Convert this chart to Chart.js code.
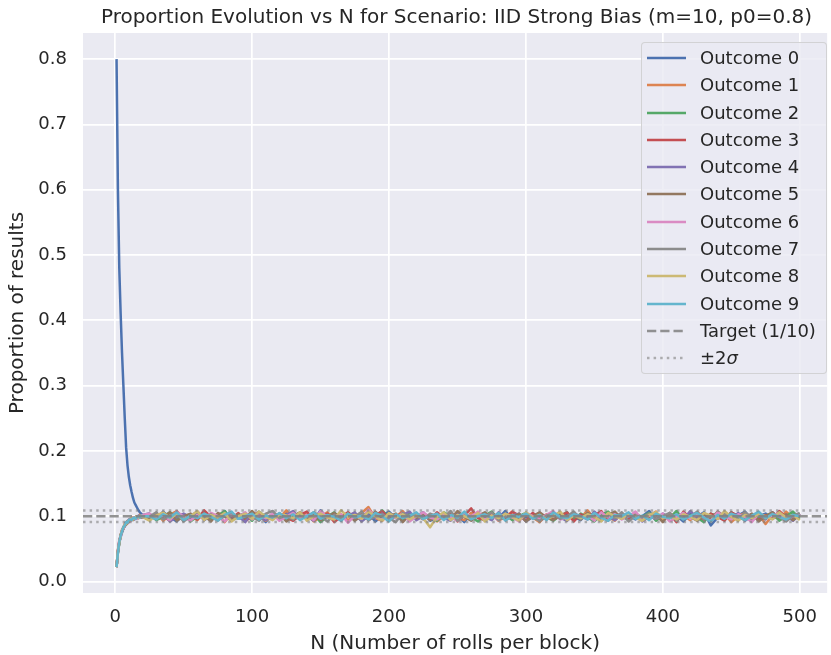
<!DOCTYPE html>
<html>
<head>
<meta charset="utf-8">
<script src="https://cdn.jsdelivr.net/npm/chart.js@4.4.0/dist/chart.umd.min.js"></script>
<style>
  html, body { margin: 0; padding: 0; background: #fff; }
  #wrap { position: relative; width: 831px; height: 655px; font-family: "DejaVu Sans", sans-serif; color: #262626; }
  #title { position: absolute; left: 83px; width: 747px; top: 4px; text-align: center; font-size: 20px; line-height: 24px; white-space: nowrap; }
  #legend { position: absolute; left: 641px; top: 42px; width: 186px; height: 332px; box-sizing: border-box;
            border: 1px solid rgba(204, 204, 204, 0.8); border-radius: 4px; background: rgba(234, 234, 242, 0.8); padding-top: 1px; }
  .row { position: relative; height: 27.3px; font-size: 18px; line-height: 27.3px; }
  .row svg { position: absolute; left: 5px; top: 12px; }
  .row span { position: absolute; left: 58px; white-space: nowrap; }
</style>
</head>
<body>
<div id="wrap">
  <canvas id="chart" width="831" height="655"></canvas>
  <div id="title">Proportion Evolution vs N for Scenario: IID Strong Bias (m=10, p0=0.8)</div>
  <div id="legend"></div>
</div>
<script>
// N values (block sizes) where proportions were read
const nValues = [
  1, 2, 3, 4, 5, 6, 7, 8, 9, 10, 11, 12, 13, 14, 15, 16, 17, 18, 19, 20,
  25, 30, 35, 40, 45, 50, 55, 60, 65, 70, 75, 80, 85, 90, 95, 100, 105, 110, 115, 120,
  125, 130, 135, 140, 145, 150, 155, 160, 165, 170, 175, 180, 185, 190, 195, 200, 205, 210, 215, 220,
  225, 230, 235, 240, 245, 250, 255, 260, 265, 270, 275, 280, 285, 290, 295, 300, 305, 310, 315, 320,
  325, 330, 335, 340, 345, 350, 355, 360, 365, 370, 375, 380, 385, 390, 395, 400, 405, 410, 415, 420,
  425, 430, 435, 440, 445, 450, 455, 460, 465, 470, 475, 480, 485, 490, 495, 500
];

const outcome0 = [
  0.800, 0.600, 0.480, 0.410, 0.350, 0.300, 0.250, 0.205, 0.178, 0.160, 0.147, 0.137, 0.128, 0.121, 0.117, 0.113, 0.109, 0.106, 0.104, 0.102,
  0.104, 0.095, 0.107, 0.098, 0.092, 0.103, 0.099, 0.106, 0.094, 0.101, 0.097, 0.108, 0.093, 0.100, 0.105, 0.096, 0.102, 0.091, 0.104, 0.099,
  0.106, 0.095, 0.100, 0.103, 0.094, 0.109, 0.098, 0.102, 0.093, 0.105, 0.099, 0.096, 0.104, 0.092, 0.101, 0.107, 0.097, 0.103, 0.095, 0.100,
  0.106, 0.093, 0.098, 0.104, 0.096, 0.102, 0.091, 0.105, 0.099, 0.094, 0.103, 0.097, 0.108, 0.095, 0.101, 0.098, 0.104, 0.092, 0.100, 0.106,
  0.096, 0.103, 0.099, 0.094, 0.107, 0.097, 0.101, 0.093, 0.105, 0.098, 0.102, 0.095, 0.100, 0.108, 0.094, 0.103, 0.097, 0.101, 0.092, 0.104,
  0.099, 0.106, 0.086, 0.098, 0.103, 0.095, 0.101, 0.107, 0.094, 0.100, 0.104, 0.096, 0.102, 0.093, 0.105, 0.099
];
const outcome1 = [
  0.022, 0.047, 0.061, 0.069, 0.078, 0.083, 0.085, 0.090, 0.092, 0.092, 0.095, 0.094, 0.097, 0.096, 0.099, 0.097, 0.100, 0.098, 0.101, 0.099,
  0.097, 0.105, 0.093, 0.102, 0.108, 0.096, 0.100, 0.094, 0.106, 0.099, 0.103, 0.091, 0.104, 0.098, 0.095, 0.107, 0.100, 0.093, 0.102, 0.097,
  0.109, 0.095, 0.101, 0.104, 0.092, 0.099, 0.106, 0.096, 0.103, 0.094, 0.100, 0.105, 0.114, 0.097, 0.093, 0.104, 0.099, 0.108, 0.095, 0.102,
  0.096, 0.103, 0.092, 0.100, 0.106, 0.098, 0.094, 0.105, 0.101, 0.097, 0.104, 0.093, 0.099, 0.107, 0.095, 0.102, 0.098, 0.091, 0.103, 0.100,
  0.106, 0.094, 0.101, 0.097, 0.109, 0.096, 0.102, 0.099, 0.093, 0.105, 0.098, 0.104, 0.095, 0.100, 0.107, 0.092, 0.103, 0.097, 0.101, 0.094,
  0.106, 0.099, 0.102, 0.096, 0.104, 0.091, 0.100, 0.105, 0.097, 0.103, 0.088, 0.101, 0.095, 0.107, 0.098, 0.102
];
const outcome2 = [
  0.022, 0.044, 0.058, 0.071, 0.076, 0.081, 0.087, 0.088, 0.090, 0.094, 0.093, 0.096, 0.095, 0.098, 0.097, 0.099, 0.098, 0.100, 0.099, 0.101,
  0.102, 0.094, 0.099, 0.106, 0.097, 0.103, 0.092, 0.100, 0.105, 0.096, 0.101, 0.108, 0.095, 0.098, 0.104, 0.093, 0.107, 0.099, 0.096, 0.102,
  0.094, 0.100, 0.105, 0.097, 0.103, 0.091, 0.099, 0.106, 0.095, 0.101, 0.104, 0.093, 0.100, 0.097, 0.109, 0.098, 0.102, 0.094, 0.105, 0.096,
  0.103, 0.099, 0.093, 0.106, 0.100, 0.095, 0.104, 0.098, 0.092, 0.101, 0.107, 0.096, 0.102, 0.094, 0.100, 0.105, 0.097, 0.103, 0.099, 0.093,
  0.101, 0.106, 0.095, 0.104, 0.098, 0.092, 0.102, 0.107, 0.096, 0.100, 0.094, 0.103, 0.099, 0.105, 0.093, 0.101, 0.097, 0.108, 0.095, 0.102,
  0.098, 0.091, 0.104, 0.100, 0.096, 0.106, 0.099, 0.094, 0.103, 0.097, 0.101, 0.105, 0.093, 0.100, 0.107, 0.096
];
const outcome3 = [
  0.022, 0.048, 0.062, 0.070, 0.079, 0.080, 0.088, 0.091, 0.089, 0.093, 0.096, 0.095, 0.098, 0.097, 0.096, 0.100, 0.099, 0.102, 0.098, 0.100,
  0.096, 0.104, 0.100, 0.093, 0.107, 0.098, 0.102, 0.095, 0.109, 0.099, 0.094, 0.103, 0.097, 0.105, 0.092, 0.101, 0.106, 0.096, 0.100, 0.104,
  0.098, 0.093, 0.102, 0.107, 0.095, 0.100, 0.104, 0.091, 0.099, 0.106, 0.097, 0.103, 0.094, 0.101, 0.108, 0.096, 0.099, 0.105, 0.093, 0.102,
  0.100, 0.095, 0.106, 0.098, 0.103, 0.092, 0.101, 0.112, 0.097, 0.094, 0.104, 0.099, 0.096, 0.107, 0.101, 0.093, 0.105, 0.098, 0.102, 0.095,
  0.100, 0.106, 0.092, 0.103, 0.097, 0.101, 0.108, 0.094, 0.099, 0.104, 0.096, 0.102, 0.093, 0.100, 0.105, 0.098, 0.103, 0.091, 0.107, 0.097,
  0.101, 0.095, 0.104, 0.099, 0.093, 0.106, 0.100, 0.097, 0.103, 0.094, 0.102, 0.096, 0.108, 0.099, 0.095, 0.104
];
const outcome4 = [
  0.022, 0.045, 0.059, 0.068, 0.075, 0.082, 0.084, 0.089, 0.091, 0.095, 0.094, 0.097, 0.096, 0.095, 0.098, 0.097, 0.101, 0.099, 0.100, 0.098,
  0.101, 0.096, 0.105, 0.092, 0.099, 0.104, 0.097, 0.107, 0.094, 0.102, 0.098, 0.103, 0.095, 0.100, 0.091, 0.106, 0.099, 0.094, 0.104, 0.097,
  0.102, 0.108, 0.096, 0.100, 0.093, 0.105, 0.098, 0.103, 0.095, 0.100, 0.106, 0.092, 0.101, 0.097, 0.104, 0.095, 0.099, 0.102, 0.107, 0.094,
  0.100, 0.096, 0.103, 0.098, 0.093, 0.105, 0.100, 0.096, 0.102, 0.099, 0.094, 0.106, 0.097, 0.101, 0.104, 0.092, 0.099, 0.105, 0.096, 0.102,
  0.098, 0.093, 0.104, 0.100, 0.095, 0.107, 0.097, 0.101, 0.094, 0.103, 0.099, 0.105, 0.092, 0.100, 0.096, 0.104, 0.098, 0.102, 0.095, 0.108,
  0.097, 0.101, 0.094, 0.103, 0.099, 0.096, 0.105, 0.093, 0.100, 0.102, 0.095, 0.106, 0.098, 0.101, 0.093, 0.104
];
const outcome5 = [
  0.022, 0.046, 0.060, 0.072, 0.077, 0.083, 0.086, 0.087, 0.092, 0.091, 0.095, 0.096, 0.094, 0.097, 0.099, 0.098, 0.097, 0.100, 0.101, 0.099,
  0.095, 0.102, 0.098, 0.106, 0.093, 0.100, 0.104, 0.097, 0.101, 0.092, 0.105, 0.099, 0.094, 0.103, 0.097, 0.108, 0.095, 0.101, 0.098, 0.104,
  0.092, 0.100, 0.106, 0.096, 0.102, 0.094, 0.099, 0.105, 0.097, 0.103, 0.093, 0.101, 0.096, 0.107, 0.098, 0.100, 0.104, 0.091, 0.102, 0.097,
  0.105, 0.094, 0.100, 0.103, 0.096, 0.108, 0.099, 0.093, 0.101, 0.106, 0.097, 0.102, 0.095, 0.099, 0.104, 0.092, 0.100, 0.106, 0.098, 0.094,
  0.103, 0.097, 0.101, 0.095, 0.105, 0.099, 0.093, 0.102, 0.107, 0.096, 0.100, 0.104, 0.094, 0.098, 0.102, 0.091, 0.105, 0.097, 0.101, 0.099,
  0.093, 0.103, 0.096, 0.107, 0.100, 0.095, 0.102, 0.098, 0.104, 0.092, 0.100, 0.106, 0.097, 0.103, 0.094, 0.101
];
const outcome6 = [
  0.022, 0.047, 0.063, 0.069, 0.078, 0.081, 0.087, 0.090, 0.090, 0.094, 0.092, 0.097, 0.096, 0.098, 0.097, 0.096, 0.099, 0.098, 0.100, 0.102,
  0.104, 0.097, 0.101, 0.094, 0.107, 0.099, 0.093, 0.102, 0.096, 0.105, 0.100, 0.092, 0.103, 0.098, 0.106, 0.095, 0.101, 0.097, 0.104, 0.093,
  0.099, 0.105, 0.096, 0.102, 0.094, 0.108, 0.098, 0.100, 0.103, 0.090, 0.101, 0.096, 0.110, 0.099, 0.094, 0.103, 0.097, 0.105, 0.092, 0.100,
  0.106, 0.098, 0.095, 0.102, 0.099, 0.093, 0.104, 0.100, 0.107, 0.096, 0.101, 0.094, 0.103, 0.098, 0.092, 0.105, 0.100, 0.096, 0.102, 0.108,
  0.095, 0.099, 0.104, 0.097, 0.101, 0.093, 0.106, 0.098, 0.103, 0.095, 0.100, 0.107, 0.094, 0.101, 0.097, 0.104, 0.092, 0.099, 0.105, 0.096,
  0.102, 0.098, 0.093, 0.106, 0.100, 0.095, 0.103, 0.099, 0.091, 0.104, 0.097, 0.101, 0.105, 0.094, 0.100, 0.103
];
const outcome7 = [
  0.022, 0.045, 0.060, 0.071, 0.076, 0.084, 0.085, 0.089, 0.093, 0.092, 0.096, 0.095, 0.097, 0.096, 0.099, 0.098, 0.100, 0.099, 0.098, 0.100,
  0.099, 0.106, 0.095, 0.101, 0.104, 0.092, 0.100, 0.107, 0.097, 0.103, 0.094, 0.100, 0.105, 0.096, 0.102, 0.099, 0.093, 0.104, 0.108, 0.097,
  0.101, 0.095, 0.103, 0.098, 0.106, 0.100, 0.092, 0.102, 0.096, 0.104, 0.099, 0.107, 0.094, 0.100, 0.103, 0.097, 0.091, 0.105, 0.099, 0.102,
  0.095, 0.104, 0.100, 0.097, 0.108, 0.093, 0.101, 0.096, 0.103, 0.099, 0.106, 0.094, 0.100, 0.102, 0.097, 0.105, 0.098, 0.093, 0.101, 0.104,
  0.096, 0.100, 0.107, 0.095, 0.102, 0.099, 0.094, 0.103, 0.097, 0.106, 0.092, 0.101, 0.098, 0.104, 0.096, 0.100, 0.105, 0.093, 0.102, 0.099,
  0.107, 0.095, 0.101, 0.097, 0.103, 0.100, 0.094, 0.106, 0.098, 0.102, 0.096, 0.104, 0.099, 0.092, 0.101, 0.105
];
const outcome8 = [
  0.022, 0.046, 0.059, 0.070, 0.079, 0.082, 0.088, 0.088, 0.091, 0.093, 0.094, 0.098, 0.095, 0.097, 0.098, 0.100, 0.098, 0.101, 0.099, 0.099,
  0.093, 0.101, 0.106, 0.097, 0.103, 0.095, 0.100, 0.108, 0.094, 0.102, 0.098, 0.105, 0.092, 0.100, 0.104, 0.096, 0.107, 0.099, 0.094, 0.103,
  0.101, 0.097, 0.106, 0.093, 0.100, 0.104, 0.098, 0.095, 0.109, 0.099, 0.102, 0.096, 0.107, 0.100, 0.093, 0.105, 0.098, 0.103, 0.095, 0.101,
  0.097, 0.083, 0.099, 0.106, 0.094, 0.102, 0.100, 0.096, 0.105, 0.092, 0.101, 0.097, 0.104, 0.099, 0.093, 0.106, 0.098, 0.102, 0.095, 0.100,
  0.107, 0.094, 0.101, 0.097, 0.103, 0.099, 0.092, 0.105, 0.100, 0.096, 0.104, 0.098, 0.093, 0.102, 0.106, 0.097, 0.100, 0.095, 0.103, 0.099,
  0.094, 0.105, 0.101, 0.096, 0.108, 0.099, 0.093, 0.102, 0.097, 0.104, 0.100, 0.095, 0.106, 0.098, 0.102, 0.094
];
const outcome9 = [
  0.022, 0.044, 0.061, 0.070, 0.077, 0.083, 0.086, 0.091, 0.090, 0.094, 0.095, 0.094, 0.097, 0.098, 0.096, 0.099, 0.100, 0.098, 0.101, 0.100,
  0.100, 0.095, 0.103, 0.098, 0.106, 0.094, 0.101, 0.097, 0.104, 0.099, 0.093, 0.102, 0.107, 0.096, 0.100, 0.104, 0.095, 0.101, 0.098, 0.105,
  0.097, 0.103, 0.094, 0.100, 0.106, 0.096, 0.102, 0.099, 0.093, 0.104, 0.098, 0.101, 0.095, 0.105, 0.100, 0.092, 0.103, 0.097, 0.101, 0.106,
  0.096, 0.100, 0.104, 0.094, 0.102, 0.098, 0.107, 0.095, 0.100, 0.103, 0.097, 0.105, 0.093, 0.101, 0.099, 0.104, 0.096, 0.102, 0.094, 0.106,
  0.099, 0.097, 0.103, 0.100, 0.095, 0.105, 0.098, 0.093, 0.102, 0.100, 0.106, 0.096, 0.101, 0.094, 0.104, 0.099, 0.097, 0.103, 0.095, 0.100,
  0.105, 0.098, 0.092, 0.102, 0.096, 0.104, 0.100, 0.094, 0.101, 0.107, 0.097, 0.103, 0.099, 0.095, 0.102, 0.100
];

const outcomeSeries = [outcome0, outcome1, outcome2, outcome3, outcome4, outcome5, outcome6, outcome7, outcome8, outcome9];
const outcomeNames = ["Outcome 0", "Outcome 1", "Outcome 2", "Outcome 3", "Outcome 4",
                      "Outcome 5", "Outcome 6", "Outcome 7", "Outcome 8", "Outcome 9"];
const outcomeColors = ["#4c72b0", "#dd8452", "#55a868", "#c44e52", "#8172b3",
                       "#937860", "#da8bc3", "#8c8c8c", "#ccb974", "#64b5cd"];

const targetValue = 0.1;
const sigmaLow = 0.0912;
const sigmaHigh = 0.1088;

const xTicks = [0, 100, 200, 300, 400, 500];
const yTicks = [0.0, 0.1, 0.2, 0.3, 0.4, 0.5, 0.6, 0.7, 0.8];

const X_MIN = -23.5, X_MAX = 520;
const Y_MIN = -0.0176, Y_MAX = 0.84;
const TEXT = "#262626";
const FONT = "'DejaVu Sans', sans-serif";

// --- DATASETS ---
const datasets = outcomeSeries.map((values, i) => ({
  label: outcomeNames[i],
  data: values.map((v, k) => ({ x: nValues[k], y: v })),
  borderColor: outcomeColors[i],
  borderWidth: 2.5,
  pointRadius: 0,
  borderJoinStyle: "round",
  order: 20 - i,
}));

function hLine(label, y, dash, color, order) {
  return {
    label,
    data: [{ x: X_MIN, y }, { x: X_MAX, y }],
    borderColor: color,
    borderWidth: 2.5,
    borderDash: dash,
    pointRadius: 0,
    order,
  };
}
datasets.push(hLine("Target (1/10)", targetValue, [9.25, 4], "rgba(128,128,128,0.85)", 3));
datasets.push(hLine("+2sigma", sigmaHigh, [2.5, 4.1], "rgba(128,128,128,0.6)", 2));
datasets.push(hLine("-2sigma", sigmaLow, [2.5, 4.1], "rgba(128,128,128,0.6)", 1));

const plotBackground = {
  id: "plotBackground",
  beforeDraw(chart) {
    const { ctx, chartArea } = chart;
    ctx.save();
    ctx.fillStyle = "#eaeaf2";
    ctx.fillRect(chartArea.left, chartArea.top, chartArea.width, chartArea.height);
    ctx.restore();
  },
};

new Chart(document.getElementById("chart"), {
  type: "line",
  data: { datasets },
  plugins: [plotBackground],
  options: {
    responsive: false,
    animation: false,
    events: [],
    layout: { padding: { top: 33, right: 1, left: 0, bottom: 0 } },
    plugins: { legend: { display: false }, tooltip: { enabled: false }, title: { display: false } },
    scales: {
      x: {
        type: "linear",
        min: X_MIN,
        max: X_MAX,
        afterBuildTicks: (s) => { s.ticks = xTicks.map((v) => ({ value: v })); },
        afterFit: (s) => { s.height = 62; },
        grid: { color: "#ffffff", lineWidth: 1.7, drawTicks: false },
        border: { display: false },
        ticks: { color: TEXT, font: { family: FONT, size: 18 }, padding: 14, maxRotation: 0, callback: (v) => String(v) },
        title: { display: true, text: "N (Number of rolls per block)", color: TEXT,
                 font: { family: FONT, size: 20, lineHeight: 1.1 }, padding: { top: 0, bottom: 0 } },
      },
      y: {
        type: "linear",
        min: Y_MIN,
        max: Y_MAX,
        afterBuildTicks: (s) => { s.ticks = yTicks.map((v) => ({ value: v })); },
        afterFit: (s) => { s.width = 83; },
        grid: { color: "#ffffff", lineWidth: 1.7, drawTicks: false },
        border: { display: false },
        ticks: { color: TEXT, font: { family: FONT, size: 18 }, padding: 16, callback: (v) => v.toFixed(1) },
        title: { display: true, text: "Proportion of results", color: TEXT,
                 font: { family: FONT, size: 20 }, padding: { top: 6, bottom: 0 } },
      },
    },
  },
});

// --- LEGEND ---
const legendEntries = outcomeNames.map((name, i) => ({ name, color: outcomeColors[i], dash: "" }));
legendEntries.push({ name: "Target (1/10)", color: "rgba(128,128,128,0.85)", dash: "9.25 4" });
legendEntries.push({ name: "±2<i>σ</i>", color: "rgba(128,128,128,0.6)", dash: "2.5 4.1" });

const legendEl = document.getElementById("legend");
legendEntries.forEach((e) => {
  const row = document.createElement("div");
  row.className = "row";
  row.innerHTML =
    `<svg width="40" height="4"><line x1="0" y1="2" x2="39" y2="2" stroke="${e.color}" stroke-width="2.5"` +
    (e.dash ? ` stroke-dasharray="${e.dash}"` : "") + `/></svg><span>${e.name}</span>`;
  legendEl.appendChild(row);
});
</script>
</body>
</html>
